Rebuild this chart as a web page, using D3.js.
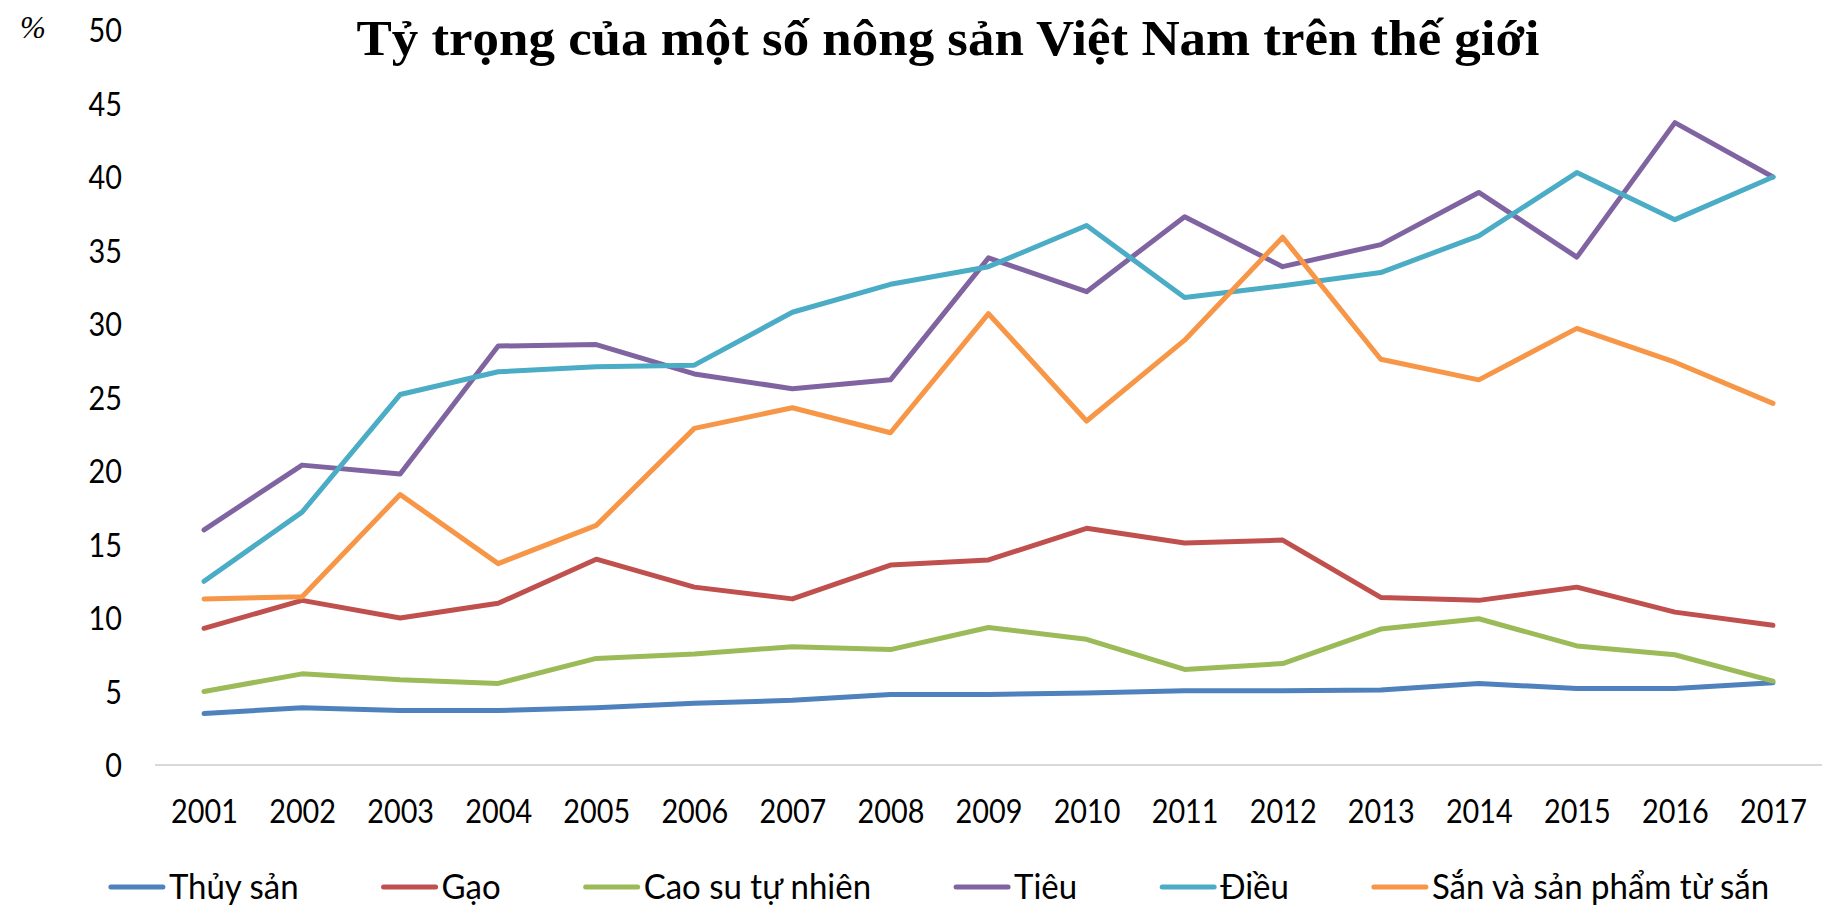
<!DOCTYPE html>
<html>
<head>
<meta charset="utf-8">
<script src="https://cdn.jsdelivr.net/npm/d3@7"></script>
<style>
  html, body { margin: 0; padding: 0; background: #fff; }
  svg { display: block; }
</style>
</head>
<body>
<svg id="chart" width="1828" height="906"></svg>
<script>
// ---------- data ----------
const years = ["2001","2002","2003","2004","2005","2006","2007","2008","2009","2010","2011","2012","2013","2014","2015","2016","2017"];
const seriesNames = ["Thủy sản", "Gạo", "Cao su tự nhiên", "Tiêu", "Điều", "Sắn và sản phẩm từ sắn"];
const thuySan = [3.5, 3.9, 3.7, 3.7, 3.9, 4.2, 4.4, 4.8, 4.8, 4.9, 5.05, 5.05, 5.1, 5.55, 5.2, 5.2, 5.6];
const gao     = [9.3, 11.2, 10.0, 11.0, 14.0, 12.1, 11.3, 13.6, 13.95, 16.1, 15.1, 15.3, 11.4, 11.2, 12.1, 10.4, 9.5];
const caoSu   = [5.0, 6.2, 5.8, 5.55, 7.25, 7.55, 8.05, 7.85, 9.35, 8.55, 6.5, 6.9, 9.25, 9.95, 8.1, 7.5, 5.7];
const tieu    = [16.0, 20.4, 19.8, 28.5, 28.6, 26.6, 25.6, 26.2, 34.5, 32.2, 37.3, 33.9, 35.4, 38.95, 34.55, 43.7, 40.0];
const dieu    = [12.5, 17.2, 25.2, 26.75, 27.1, 27.2, 30.8, 32.7, 33.9, 36.7, 31.8, 32.6, 33.5, 36.0, 40.3, 37.1, 40.0];
const san     = [11.3, 11.45, 18.4, 13.7, 16.3, 22.9, 24.3, 22.6, 30.7, 23.4, 28.9, 35.9, 27.6, 26.2, 29.7, 27.4, 24.6];
const yTicks  = [0, 5, 10, 15, 20, 25, 30, 35, 40, 45, 50];
const titleText = "Tỷ trọng của một số nông sản Việt Nam trên thế giới";
const unitText = "%";

const seriesValues = [thuySan, gao, caoSu, tieu, dieu, san];
const colors = ["#4F81BD", "#C0504D", "#9BBB59", "#8064A2", "#4BACC6", "#F79646"];

// ---------- layout ----------
const svg = d3.select("#chart");
const plotLeft = 155, plotRight = 1822, plotTop = 30, plotBottom = 765;
const labelFont = "Lato, 'Open Sans', sans-serif";
const condenseK = 0.9;

const x = d3.scalePoint().domain(years).range([plotLeft, plotRight]).padding(0.5);
const y = d3.scaleLinear().domain([0, 50]).range([plotBottom, plotTop]);

function condense(sel, k) {
  sel.each(function () {
    const w = this.getComputedTextLength();
    this.setAttribute("textLength", w * k);
    this.setAttribute("lengthAdjust", "spacingAndGlyphs");
  });
}

// zero gridline
svg.append("line")
  .attr("x1", plotLeft).attr("x2", plotRight)
  .attr("y1", y(0)).attr("y2", y(0))
  .attr("stroke", "#D9D9D9").attr("stroke-width", 2);

// y axis
const yAxis = svg.append("g")
  .attr("transform", `translate(${plotLeft},0)`)
  .call(d3.axisLeft(y).tickValues(yTicks).tickSize(0).tickPadding(33).tickFormat(d3.format("d")));
yAxis.select(".domain").remove();
yAxis.selectAll("text")
  .attr("font-family", labelFont).attr("font-size", 32).attr("fill", "#000").attr("dy", "0.36em");
condense(yAxis.selectAll("text"), condenseK);

// x axis
const xAxis = svg.append("g")
  .attr("transform", `translate(0,${plotBottom})`)
  .call(d3.axisBottom(x).tickSize(0));
xAxis.select(".domain").remove();
xAxis.selectAll("text")
  .attr("font-family", labelFont).attr("font-size", 32).attr("fill", "#000")
  .attr("y", 58).attr("dy", 0);
condense(xAxis.selectAll("text"), condenseK);

// lines
const line = d3.line().x((d, i) => x(years[i])).y(d => y(d));
svg.append("g").selectAll("path")
  .data(seriesValues)
  .join("path")
  .attr("d", d => line(d))
  .attr("fill", "none")
  .attr("stroke", (d, i) => colors[i])
  .attr("stroke-width", 5)
  .attr("stroke-linejoin", "round")
  .attr("stroke-linecap", "round");

// title
const title = svg.append("text")
  .attr("x", 948).attr("y", 55)
  .attr("text-anchor", "middle")
  .attr("font-family", "'Liberation Serif', 'Times New Roman', serif")
  .attr("font-weight", "bold")
  .attr("font-size", 50)
  .attr("fill", "#000")
  .text(titleText);
title.attr("textLength", 1183).attr("lengthAdjust", "spacingAndGlyphs");

// unit label
svg.append("text")
  .attr("x", 33).attr("y", 38)
  .attr("text-anchor", "middle")
  .attr("font-family", "'Liberation Serif', 'Times New Roman', serif")
  .attr("font-style", "italic")
  .attr("font-size", 31)
  .attr("fill", "#000")
  .text(unitText);

// legend
const legend = svg.append("g");
const legendY = 887, lineLen = 52, textGap = 6, itemGap = 85;
const items = legend.selectAll("g.item")
  .data(seriesNames)
  .join("g").attr("class", "item");
items.append("line")
  .attr("x1", 0).attr("x2", lineLen)
  .attr("y1", 0).attr("y2", 0)
  .attr("stroke", (d, i) => colors[i])
  .attr("stroke-width", 5)
  .attr("stroke-linecap", "round");
items.append("text")
  .attr("x", lineLen + textGap).attr("y", 12)
  .attr("font-family", labelFont).attr("font-size", 34).attr("fill", "#000")
  .text(d => d);
condense(items.selectAll("text"), 0.97);
let cursor = 0;
const widths = [];
items.each(function () {
  const t = d3.select(this).select("text").node();
  const w = lineLen + textGap + (+t.getAttribute("textLength"));
  widths.push(w);
});
items.attr("transform", (d, i) => {
  const pos = cursor;
  cursor += widths[i] + itemGap;
  return `translate(${pos},0)`;
});
const total = cursor - itemGap;
legend.attr("transform", `translate(${940 - total / 2},${legendY})`);
</script>
</body>
</html>
